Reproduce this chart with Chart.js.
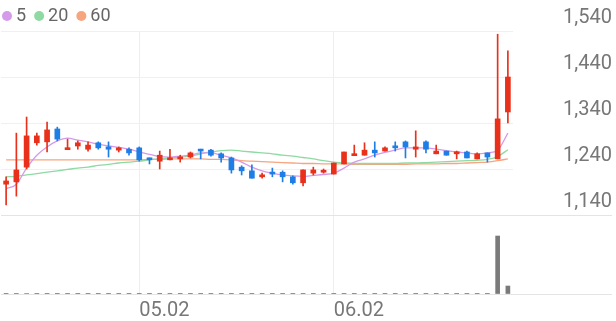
<!DOCTYPE html>
<html>
<head>
<meta charset="utf-8">
<script src="https://cdn.jsdelivr.net/npm/chart.js@4.4.1/dist/chart.umd.min.js"></script>
<style>
  html, body { margin: 0; padding: 0; background: #fff; }
</style>
</head>
<body>
<canvas id="chart" width="616" height="321"></canvas>
<script>
// dias de pregão (abr-jun 2025), só dois rótulos aparecem no eixo
const dates = [
  '04.14','04.15','04.16','04.17','04.18','04.21','04.22','04.23','04.24','04.25','04.28','04.29','04.30',
  '05.02','05.07','05.08','05.09','05.12','05.13','05.14','05.15','05.16','05.19','05.20','05.21','05.22',
  '05.23','05.26','05.27','05.28','05.29','05.30',
  '06.02','06.04','06.05','06.09','06.10','06.11','06.12','06.13','06.16','06.17','06.18','06.19','06.20',
  '06.23','06.24','06.25','06.26','06.27'
];
const tickDates = ['05.02', '06.02'];
const priceTicks = [1140, 1240, 1340, 1440, 1540];

const opens  = [1207,1212,1244,1297,1299,1327,1282,1290,1283,1297,1288,1281,1283,1286,1264,1257,1260,1262,1266,1283,1281,1273,1264,1244,1236,1223,1233,1233,1223,1210,1231,1233,1229,1251,1269,1270,1281,1279,1288,1299,1283,1299,1273,1279,1273,1277,1262,1275,1262,1364];
const highs  = [1223,1318,1353,1318,1342,1331,1305,1301,1299,1299,1299,1288,1286,1288,1264,1279,1283,1270,1277,1283,1283,1275,1266,1247,1249,1231,1242,1236,1225,1238,1244,1240,1253,1277,1292,1297,1299,1288,1299,1301,1323,1301,1292,1279,1279,1279,1275,1275,1533,1497];
const lows   = [1162,1181,1240,1292,1277,1301,1282,1283,1279,1283,1266,1277,1270,1257,1251,1240,1260,1255,1264,1262,1268,1255,1231,1227,1220,1220,1223,1212,1207,1203,1227,1231,1229,1251,1269,1270,1266,1279,1279,1264,1266,1275,1273,1270,1262,1264,1262,1255,1262,1340];
const closes = [1214,1238,1312,1312,1325,1305,1284,1297,1292,1286,1283,1286,1275,1260,1260,1270,1264,1264,1275,1279,1270,1264,1238,1236,1220,1227,1229,1223,1210,1238,1238,1236,1253,1277,1271,1281,1275,1286,1286,1288,1288,1283,1279,1270,1275,1264,1273,1266,1349,1440];
const volumes = [20000,80000,60000,30000,35000,25000,15000,15000,12000,15000,18000,10000,12000,20000,15000,20000,15000,10000,12000,12000,10000,12000,25000,15000,20000,10000,10000,15000,18000,25000,12000,10000,20000,25000,15000,20000,18000,10000,15000,15000,30000,15000,12000,10000,12000,15000,12000,15000,7340000,1010000];

// médias móveis
const ma5  = [1197,1207,1242,1270,1288,1301,1307,1303,1299,1294,1290,1287,1283,1277,1272,1267,1266,1268,1270,1275,1275,1270,1264,1255,1244,1236,1231,1227,1225,1224,1226,1228,1231,1242,1255,1262,1270,1276,1281,1286,1286,1286,1283,1280,1277,1275,1273,1275,1281,1318];
const ma20 = [1223,1224,1227,1230,1233,1236,1239,1242,1244,1248,1250,1253,1255,1257,1260,1262,1264,1266,1268,1273,1277,1280,1281,1279,1277,1275,1273,1270,1268,1265,1262,1258,1255,1253,1252,1252,1252,1252,1252,1253,1253,1254,1255,1256,1257,1258,1259,1261,1267,1282];
const ma60 = [1260,1260,1260,1260,1260,1260,1260,1260,1260,1260,1260,1260,1260,1260,1261,1261,1262,1262,1262,1262,1261,1261,1260,1258,1257,1256,1255,1254,1253,1252,1252,1251,1251,1251,1250,1250,1250,1250,1250,1250,1251,1251,1251,1252,1252,1253,1254,1255,1258,1262];

const maNames = ['5', '20', '60'];
const maColors = ['#d59ae9', '#8fd9a3', '#f6a57f'];

const UP = '#e8301a';
const DOWN = '#1f7de6';
const candleColors = opens.map((o, i) => closes[i] >= o ? UP : DOWN);

// legenda desenhada à mão no canto superior esquerdo
const maLegend = {
  id: 'maLegend',
  afterDraw(chart) {
    const ctx = chart.ctx;
    ctx.save();
    ctx.font = '18px Roboto';
    ctx.textBaseline = 'middle';
    let x = 2;
    maNames.forEach((name, k) => {
      ctx.fillStyle = maColors[k];
      ctx.beginPath();
      ctx.arc(x + 5, 16, 5, 0, Math.PI * 2);
      ctx.fill();
      ctx.fillStyle = '#666';
      ctx.fillText(name, x + 14, 16);
      x += 14 + ctx.measureText(name).width + 8;
    });
    ctx.restore();
  }
};

const fontAxis = { family: 'Roboto', size: 20 };

new Chart(document.getElementById('chart'), {
  data: {
    labels: dates,
    datasets: [
      { type: 'bar', label: 'body', data: opens.map((o, i) => [o, closes[i]]), backgroundColor: candleColors,
        barThickness: 5, minBarLength: 2, grouped: false, yAxisID: 'y', order: 0 },
      { type: 'bar', label: 'wick', data: lows.map((l, i) => [l, highs[i]]), backgroundColor: candleColors,
        barThickness: 1, grouped: false, yAxisID: 'y', order: 1 },
      { type: 'line', label: maNames[0], data: ma5, borderColor: maColors[0], borderWidth: 1.3, pointRadius: 0,
        cubicInterpolationMode: 'monotone', yAxisID: 'y', order: 2 },
      { type: 'line', label: maNames[1], data: ma20, borderColor: maColors[1], borderWidth: 1.3, pointRadius: 0,
        cubicInterpolationMode: 'monotone', yAxisID: 'y', order: 3 },
      { type: 'line', label: maNames[2], data: ma60, borderColor: maColors[2], borderWidth: 1.3, pointRadius: 0,
        cubicInterpolationMode: 'monotone', yAxisID: 'y', order: 4 },
      { type: 'bar', label: 'vol', data: volumes, backgroundColor: '#7a7a7a',
        barThickness: 4, grouped: false, yAxisID: 'yv', order: 5 }
    ]
  },
  options: {
    responsive: false,
    animation: false,
    events: [],
    layout: { padding: { left: 1, right: 4, top: 31, bottom: 0 } },
    plugins: { legend: { display: false }, tooltip: { enabled: false } },
    scales: {
      x: {
        type: 'category',
        offset: true,
        afterFit: s => { s.height = 27; },
        border: { display: false },
        grid: {
          offset: false,
          drawTicks: false,
          color: c => tickDates.includes(dates[c.index]) ? '#eeeeee' : 'rgba(0,0,0,0)'
        },
        ticks: {
          autoSkip: false,
          maxRotation: 0,
          align: 'start',
          padding: 5,
          color: '#777',
          font: fontAxis,
          callback: (v, i) => tickDates.includes(dates[i]) ? dates[i] : ''
        }
      },
      y: {
        position: 'right',
        stack: 'painel',
        stackWeight: 184,
        min: 1140,
        max: 1540,
        afterBuildTicks: s => { s.ticks = priceTicks.map(v => ({ value: v })); },
        afterFit: s => { s.width = 99; },
        border: { display: false },
        grid: {
          color: c => c.tick && c.tick.value === 1140 ? '#e4e4e4' : '#f0f0f0',
          tickLength: 99,
          tickColor: c => c.tick && c.tick.value === 1140 ? '#e4e4e4' : 'rgba(0,0,0,0)'
        },
        ticks: {
          autoSkip: false,
          crossAlign: 'far',
          labelOffset: -13,
          color: '#777',
          font: fontAxis,
          callback: v => v.toLocaleString('en-US')
        }
      },
      yv: {
        position: 'right',
        stack: 'painel',
        stackWeight: 79,
        min: 0,
        max: 10000000,
        afterBuildTicks: s => { s.ticks = [{ value: 0 }]; },
        afterFit: s => { s.width = 99; },
        border: { display: false },
        grid: { color: '#e4e4e4', tickLength: 99, tickColor: '#e4e4e4' },
        ticks: { display: false }
      }
    }
  },
  plugins: [maLegend]
});
</script>
</body>
</html>
